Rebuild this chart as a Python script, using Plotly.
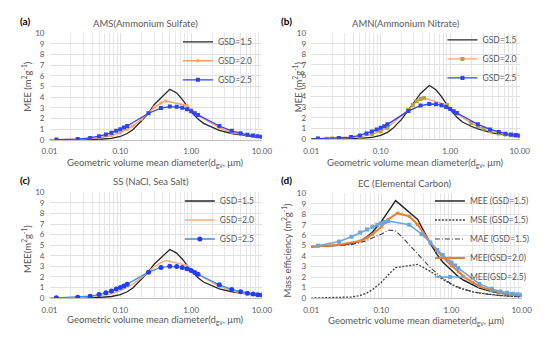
import plotly.graph_objects as go

# ---------------- data ----------------
X_MARK = [0.0125, 0.025, 0.0375, 0.05, 0.0625, 0.075, 0.0875, 0.1, 0.1125, 0.125,
          0.25, 0.375, 0.5, 0.625, 0.75, 0.875, 1.0, 1.125, 1.25,
          2.5, 3.75, 5.0, 6.25, 7.5, 8.75, 10.0]
X_15 = [0.01, 0.025, 0.05, 0.075, 0.1, 0.125, 0.15, 0.2, 0.25, 0.3, 0.375, 0.5,
        0.625, 0.75, 1.0, 1.25, 1.5, 2.0, 2.5, 3.75, 5.0, 7.5, 10.0]
X_20 = [0.01, 0.025, 0.05, 0.075, 0.1, 0.125, 0.15, 0.2, 0.25, 0.3, 0.375, 0.44,
        0.875, 1.0, 1.25, 2.5, 3.75, 5.0, 7.5, 10.0]
X_20B = [0.0125, 0.0167, 0.02, 0.025, 0.0375, 0.05, 0.075, 0.1, 0.125, 0.25, 0.29,
         0.33, 0.375, 0.42, 0.9, 1.25, 2.0, 2.5, 3.0, 3.75, 5.0, 6.25, 7.5, 8.75, 10.0]

# (a) AMS
A_15 = [0, 0.02, 0.06, 0.15, 0.32, 0.6, 0.95, 1.8, 2.5, 3.3, 3.95, 4.75,
        4.4, 3.8, 2.65, 1.95, 1.55, 1.15, 0.9, 0.6, 0.45, 0.3, 0.22]
A_20 = [0, 0.05, 0.2, 0.42, 0.68, 1.0, 1.3, 1.95, 2.55, 3.05, 3.45, 3.65,
        3.22, 2.85, 2.3, 1.15, 0.72, 0.52, 0.34, 0.26]
A_25 = [0.03, 0.08, 0.18, 0.33, 0.5, 0.68, 0.85, 1.0, 1.15, 1.3, 2.5, 2.98, 3.12,
        3.1, 3.02, 2.88, 2.68, 2.5, 2.33, 1.3, 0.85, 0.62, 0.48, 0.4, 0.33, 0.3]
# (b) AMN
B_15 = [0, 0.02, 0.06, 0.15, 0.33, 0.62, 1.0, 1.85, 2.7, 3.5, 4.3, 5.05,
        4.65, 4.0, 2.8, 2.05, 1.6, 1.2, 0.95, 0.62, 0.45, 0.3, 0.22]
B_20 = [0.01, 0.02, 0.03, 0.05, 0.12, 0.2, 0.42, 0.72, 1.05, 2.75, 3.2, 3.55, 3.78,
        3.88, 3.2, 2.4, 1.5, 1.2, 0.98, 0.75, 0.52, 0.42, 0.34, 0.29, 0.25]
B_25 = [0.03, 0.08, 0.18, 0.33, 0.52, 0.7, 0.88, 1.05, 1.2, 1.38, 2.65, 3.15, 3.3,
        3.28, 3.18, 3.02, 2.82, 2.62, 2.45, 1.38, 0.9, 0.65, 0.5, 0.42, 0.36, 0.32]
# (c) SS
C_15 = [0, 0.02, 0.06, 0.15, 0.33, 0.6, 0.95, 1.8, 2.5, 3.2, 3.85, 4.6,
        4.25, 3.7, 2.6, 1.92, 1.52, 1.12, 0.88, 0.6, 0.45, 0.3, 0.22]
C_20 = [0, 0.05, 0.2, 0.42, 0.68, 1.0, 1.3, 1.95, 2.5, 2.95, 3.35, 3.55,
        3.1, 2.75, 2.25, 1.12, 0.7, 0.5, 0.33, 0.25]
C_25 = [0.03, 0.08, 0.18, 0.33, 0.5, 0.68, 0.85, 1.0, 1.15, 1.32, 2.45, 2.9, 3.0,
        2.98, 2.9, 2.78, 2.6, 2.42, 2.25, 1.25, 0.82, 0.6, 0.46, 0.38, 0.32, 0.3]
# (d) EC
X_D_MEE15 = [0.01, 0.025, 0.0375, 0.05, 0.0625, 0.075, 0.1, 0.125, 0.16, 0.33, 0.5,
             0.625, 0.75, 1.0, 1.25, 1.5, 2.0, 2.5, 3.75, 5.0, 7.5, 10.0]
D_MEE15 = [4.9, 5.05, 5.2, 5.45, 5.85, 6.3, 7.3, 8.3, 9.3, 7.5, 5.2,
           4.15, 3.45, 2.65, 2.05, 1.7, 1.25, 0.95, 0.62, 0.45, 0.3, 0.22]
X_D_MSE = [0.01, 0.025, 0.0375, 0.05, 0.0625, 0.075, 0.1, 0.125, 0.16, 0.33, 0.5,
           0.75, 1.0, 1.25, 1.5, 2.0, 2.5, 3.75, 5.0, 7.5, 10.0]
D_MSE = [0, 0.02, 0.1, 0.25, 0.5, 0.8, 1.5, 2.2, 2.9, 3.22, 2.55,
         1.8, 1.3, 1.0, 0.82, 0.6, 0.48, 0.32, 0.24, 0.16, 0.12]
X_D_MAE = [0.01, 0.025, 0.0375, 0.05, 0.0625, 0.075, 0.1, 0.13, 0.16, 0.2, 0.25, 0.33,
           0.5, 0.75, 1.0, 1.25, 1.5, 2.0, 2.5, 3.75, 5.0, 7.5, 10.0]
D_MAE = [4.9, 5.0, 5.1, 5.3, 5.5, 5.75, 6.1, 6.5, 6.4, 5.8, 5.1, 4.2,
         2.9, 1.9, 1.35, 1.05, 0.85, 0.62, 0.48, 0.32, 0.24, 0.16, 0.12]
X_D_MEE20 = [0.01, 0.025, 0.05, 0.0625, 0.075, 0.1, 0.125, 0.17, 0.25, 0.33, 0.5,
             0.75, 1.0, 1.25, 1.5, 2.0, 2.5, 3.75, 5.0, 7.5, 10.0]
D_MEE20 = [4.9, 5.1, 5.45, 5.75, 6.1, 6.8, 7.5, 8.1, 7.8, 7.0, 5.3,
           3.9, 3.1, 2.5, 2.05, 1.5, 1.12, 0.72, 0.52, 0.35, 0.28]
D_MEE25 = [5.0, 5.4, 5.85, 6.25, 6.55, 6.8, 7.0, 7.15, 7.25, 7.35, 7.0, 6.1, 5.3,
           4.6, 4.1, 3.72, 3.4, 3.1, 2.85, 1.35, 0.88, 0.63, 0.5, 0.42, 0.36, 0.32]

X_TICKVALS = [0.01, 0.1, 1, 10]
X_TICKTEXT = ["0.01", "0.10", "1.00", "10.00"]
X_MINOR = [m * d for d in (0.01, 0.1, 1) for m in range(2, 10)]
Y_TICKVALS = list(range(0, 11))

TITLES = ["AMS(Ammonium Sulfate)", "AMN(Ammonium Nitrate)",
          "SS (NaCl, Sea Salt)", "EC (Elemental Carbon)"]
LABELS = ["(a)", "(b)", "(c)", "(d)"]
X_TITLE = "Geometric volume mean diameter(d<sub>gv</sub>, μm)"
Y_TITLES = ["MEE (m<sup>2</sup>g<sup>-1</sup>)", "MEE (m<sup>2</sup>g<sup>-1</sup>)",
            "MEE(m<sup>2</sup>g<sup>-1</sup>)", "Mass efficiency (m<sup>2</sup>g<sup>-1</sup>)"]

# ---------------- layout helpers ----------------
W, H = 550, 339
FONT = "Lato, 'Open Sans', sans-serif"
GRAY = "#595959"


def px(x):
    return x / W


def py(y):
    return 1 - y / H


# plot areas in pixels: (left, right, top, bottom)
AREAS = [(43, 263, 29, 139), (314, 530, 29, 138), (43, 263, 193, 302), (314, 532, 194, 302)]

fig = go.Figure()

BLACK = "#262626"
ORANGE_L = "#f4a26b"
BLUE = "#2f45f5"


def add(i, x, y, name, color, width=1.3, dash=None, msize=0, msym="square",
        mcolor=None):
    sfx = "" if i == 0 else str(i + 1)
    mode = "lines+markers" if msize else "lines"
    fig.add_trace(go.Scatter(
        x=x, y=y, name=name, mode=mode,
        line=dict(color=color, width=width, dash=dash),
        marker=dict(size=msize, symbol=msym, color=mcolor or color),
        xaxis="x" + sfx, yaxis="y" + sfx, legend="legend" + sfx,
    ))


# (a)
add(0, X_15, A_15, "GSD=1.5", BLACK)
add(0, X_20, A_20, "GSD=2.0", ORANGE_L, width=1.5, msize=3)
add(0, X_MARK, A_25, "GSD=2.5", BLUE, width=1.3, msize=4)
# (b)
add(1, X_15, B_15, "GSD=1.5", BLACK)
add(1, X_20B, B_20, "GSD=2.0", ORANGE_L, width=1.3, msize=4, mcolor="#b5a24a")
add(1, X_MARK, B_25, "GSD=2.5", BLUE, width=1.3, msize=4)
# (c)
add(2, X_15, C_15, "GSD=1.5", BLACK)
add(2, X_20, C_20, "GSD=2.0", "#f5b07e", width=1.5)
add(2, X_MARK, C_25, "GSD=2.5", "#3d8fe0", width=1.3, msize=5, msym="circle",
    mcolor="#1f3cff")
# (d)
add(3, X_D_MEE15, D_MEE15, "MEE (GSD=1.5)", BLACK, width=1.5)
add(3, X_D_MSE, D_MSE, "MSE (GSD=1.5)", "#404040", width=1.3, dash="2px,1.5px")
add(3, X_D_MAE, D_MAE, "MAE (GSD=1.5)", "#404040", width=1.1, dash="5px,2px,1px,2px")
add(3, X_D_MEE20, D_MEE20, "MEE(GSD=2.0)", "#ed7d31", width=2, msize=3, msym="x")
add(3, X_MARK, D_MEE25, "MEE(GSD=2.5)", "#6aa6db", width=1.5, msize=4)

layout = dict(
    width=W, height=H, margin=dict(l=0, r=0, t=0, b=0),
    paper_bgcolor="white", plot_bgcolor="white",
    font=dict(family=FONT, color=GRAY, size=9),
    annotations=[],
)

LEG_POS = [(176, 23), (450, 21), (178, 187), (437, 187)]

for i, (l, r, t, b) in enumerate(AREAS):
    sfx = "" if i == 0 else str(i + 1)
    layout["xaxis" + sfx] = dict(
        type="log", range=[-2, 1], domain=[px(l), px(r)],
        anchor="y" + sfx, tickvals=X_TICKVALS, ticktext=X_TICKTEXT,
        showgrid=True, gridcolor="#e0e0e0", gridwidth=1,
        minor=dict(tickvals=X_MINOR, showgrid=True, gridcolor="#e6e6e6", gridwidth=1, ticks=""),
        showline=True, linecolor="#bfbfbf", linewidth=1,
        ticks="", tickfont=dict(size=8, color=GRAY), zeroline=False,
        ticklabelstandoff=4,
    )
    layout["yaxis" + sfx] = dict(
        range=[0, 10], domain=[py(b), py(t)], anchor="x" + sfx,
        tickvals=Y_TICKVALS, showgrid=True, gridcolor="#e0e0e0", gridwidth=1,
        showline=False, ticks="", tickfont=dict(size=8, color=GRAY), zeroline=False,
        ticklabelstandoff=4,
    )
    lx, ly = LEG_POS[i]
    layout["legend" + sfx] = dict(
        x=px(lx), y=py(ly), xanchor="left", yanchor="top",
        bgcolor="rgba(0,0,0,0)", font=dict(size=8.5, color=GRAY),
        tracegroupgap=0, itemwidth=30,
    )

# text annotations
LABEL_POS = [(18, 17), (288, 17), (18, 180), (288, 180)]
TITLE_POS = [(142, 19), (412, 19), (148, 182), (411, 184)]
XT_POS = [(153, 163), (422, 163), (153, 325), (423, 326)]
YT_POS = [(19, 84), (300, 84), (19, 251), (289, 253)]


def ann(text, pos, size, color, angle=0):
    return dict(text=text, x=px(pos[0]), y=py(pos[1]), xref="paper", yref="paper",
                xanchor="center", yanchor="middle", showarrow=False, textangle=angle,
                font=dict(size=size, color=color))


for i in range(4):
    layout["annotations"].append(ann("<b>" + LABELS[i] + "</b>", LABEL_POS[i], 10, "#000000"))
    layout["annotations"].append(ann(TITLES[i], TITLE_POS[i], 9.5, GRAY))
    layout["annotations"].append(ann(X_TITLE, XT_POS[i], 9.5, GRAY))
    layout["annotations"].append(ann(Y_TITLES[i], YT_POS[i], 9.5, GRAY, -90))

fig.update_layout(**layout)
fig.write_html("out.html", config={"displayModeBar": False},
               post_script="document.body.style.margin='0px';")
